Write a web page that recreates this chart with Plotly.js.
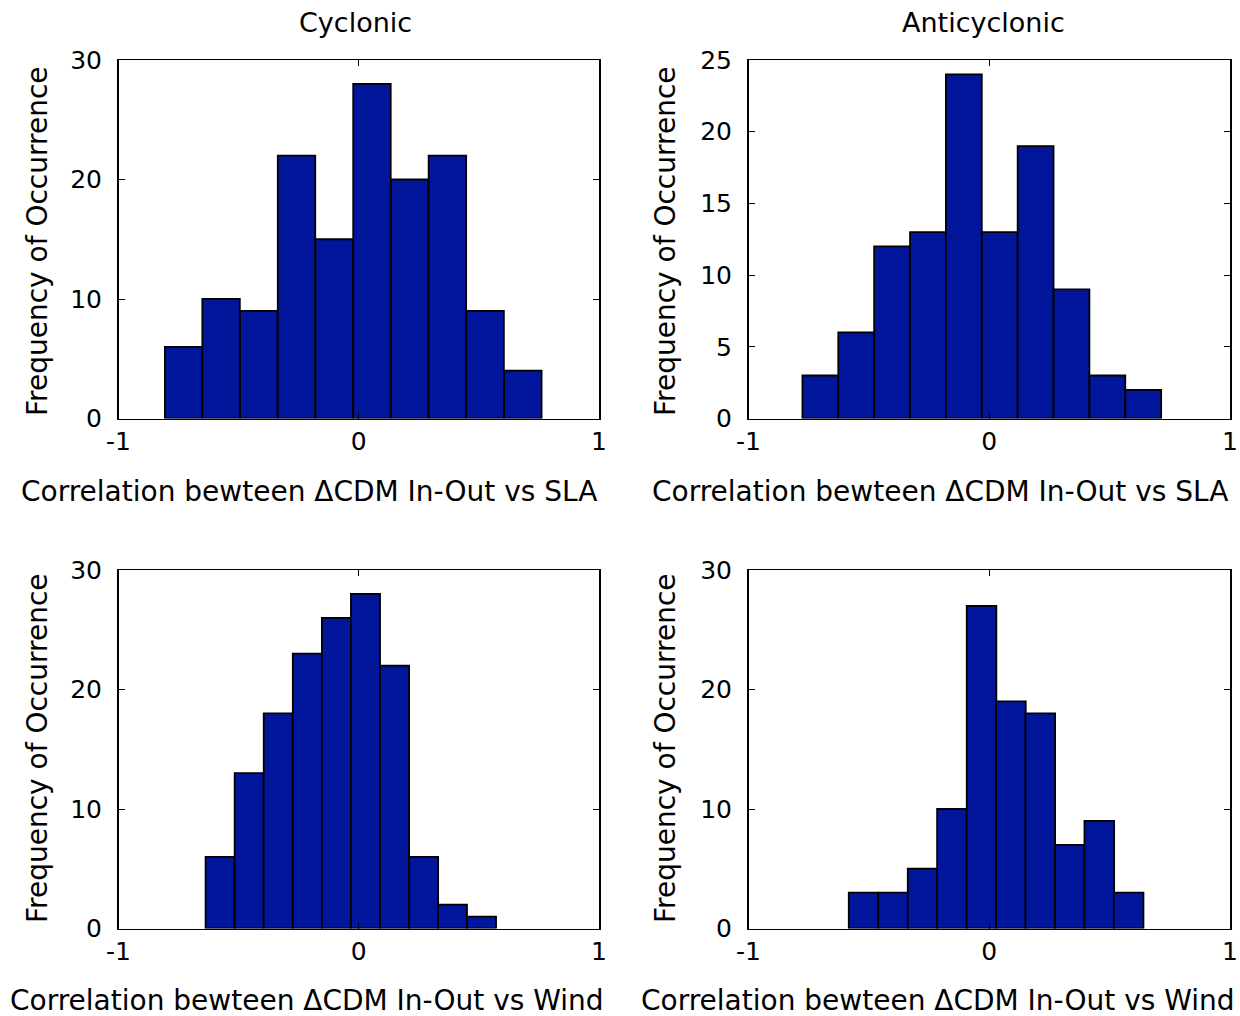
<!DOCTYPE html>
<html>
<head>
<meta charset="utf-8">
<script src="https://cdn.plot.ly/plotly-3.0.1.min.js"></script>
<style>html,body{margin:0;padding:0;background:#fff;}#chart{width:1240px;height:1016px;}</style>
</head>
<body>
<div id="chart"></div>
<script>
// Bin centres (correlation) and counts
const cycSlaCenters = [-0.729, -0.573, -0.416, -0.259, -0.102, 0.055, 0.212, 0.369, 0.526, 0.683];
const cycSlaCounts  = [6, 10, 9, 22, 15, 28, 20, 22, 9, 4];

const antiSlaCenters = [-0.7015, -0.5525, -0.4035, -0.2545, -0.1055, 0.0435, 0.1925, 0.3415, 0.4905, 0.6395];
const antiSlaCounts  = [3, 6, 12, 13, 24, 13, 19, 9, 3, 2];

const cycWindCenters = [-0.577, -0.456, -0.335, -0.214, -0.093, 0.028, 0.149, 0.270, 0.390, 0.511];
const cycWindCounts  = [6, 13, 18, 23, 26, 28, 22, 6, 2, 1];

const antiWindCenters = [-0.522, -0.399, -0.277, -0.155, -0.032, 0.090, 0.212, 0.335, 0.457, 0.579];
const antiWindCounts  = [3, 3, 5, 10, 27, 19, 18, 7, 9, 3];

const panelTitles = ["Cyclonic", "Anticyclonic"];
const xTitles = ["Correlation bewteen ΔCDM In-Out vs SLA", "Correlation bewteen ΔCDM In-Out vs SLA",
                 "Correlation bewteen ΔCDM In-Out vs Wind", "Correlation bewteen ΔCDM In-Out vs Wind"];
const yTitle = "Frequency of Occurrence";
const xTickVals = [-1, 0, 1];
const xTickText = ["-1", "0", "1"];

const W = 1240, H = 1016;
const FONT = "DejaVu Sans, Arial, sans-serif";
const barColor = "#02169c";

function barTrace(centers, counts, xa, ya) {
  const w = centers[1] - centers[0];
  return {
    type: "bar", x: centers, y: counts, width: centers.map(() => w),
    xaxis: xa, yaxis: ya,
    marker: {color: barColor, line: {color: "#000", width: 1.8}},
    hoverinfo: "x+y", showlegend: false
  };
}

const data = [
  barTrace(cycSlaCenters, cycSlaCounts, "x", "y"),
  barTrace(antiSlaCenters, antiSlaCounts, "x2", "y2"),
  barTrace(cycWindCenters, cycWindCounts, "x3", "y3"),
  barTrace(antiWindCenters, antiWindCounts, "x4", "y4")
];

function px(x) { return x / W; }
function py(y) { return 1 - y / H; }

function xAxis(dom, anchor) {
  return {
    domain: dom, anchor: anchor, range: [-1, 1],
    tickmode: "array", tickvals: xTickVals, ticktext: xTickText,
    ticks: "inside", ticklen: 6, tickwidth: 1, tickcolor: "#000",
    showline: true, linecolor: "#000", linewidth: 1.5, mirror: "ticks",
    showgrid: false, zeroline: false, ticklabelstandoff: 0,
    tickfont: {family: FONT, size: 25, color: "#000"}
  };
}
function yAxis(dom, anchor, max, dt) {
  return {
    domain: dom, anchor: anchor, range: [0, max], dtick: dt, tick0: 0,
    ticks: "inside", ticklen: 6, tickwidth: 1, tickcolor: "#000",
    showline: true, linecolor: "#000", linewidth: 1.5, mirror: "ticks",
    showgrid: false, zeroline: false, ticklabelstandoff: 10,
    tickfont: {family: FONT, size: 25, color: "#000"}
  };
}

const leftX = [px(118.5), px(599)];
const rightX = [px(748.5), px(1230)];
const topY = [py(418.5), py(60)];
const botY = [py(928.5), py(570)];

const ann = [];
function addText(text, x, y, angle, size) {
  ann.push({text: text, x: px(x), y: py(y), xref: "paper", yref: "paper",
    showarrow: false, xanchor: "center", yanchor: "middle", textangle: angle || 0,
    font: {family: FONT, size: size || 28, color: "#000"}});
}
addText(panelTitles[0], 355, 23, 0, 27);
addText(panelTitles[1], 983, 23, 0, 27);
addText(xTitles[0], 309, 491);
addText(xTitles[1], 940, 491);
addText(xTitles[2], 307, 1000);
addText(xTitles[3], 938, 1000);
addText(yTitle, 37, 241, -90);
addText(yTitle, 665, 241, -90);
addText(yTitle, 37, 748, -90);
addText(yTitle, 665, 748, -90);

const layout = {
  width: W, height: H,
  margin: {l: 0, r: 0, t: 0, b: 0},
  paper_bgcolor: "#fff", plot_bgcolor: "#fff",
  bargap: 0,
  xaxis: xAxis(leftX, "y"), yaxis: yAxis(topY, "x", 30, 10),
  xaxis2: xAxis(rightX, "y2"), yaxis2: yAxis(topY, "x2", 25, 5),
  xaxis3: xAxis(leftX, "y3"), yaxis3: yAxis(botY, "x3", 30, 10),
  xaxis4: xAxis(rightX, "y4"), yaxis4: yAxis(botY, "x4", 30, 10),
  annotations: ann,
  font: {family: FONT, color: "#000"}
};

Plotly.newPlot("chart", data, layout, {staticPlot: true, displayModeBar: false});
</script>
</body>
</html>
